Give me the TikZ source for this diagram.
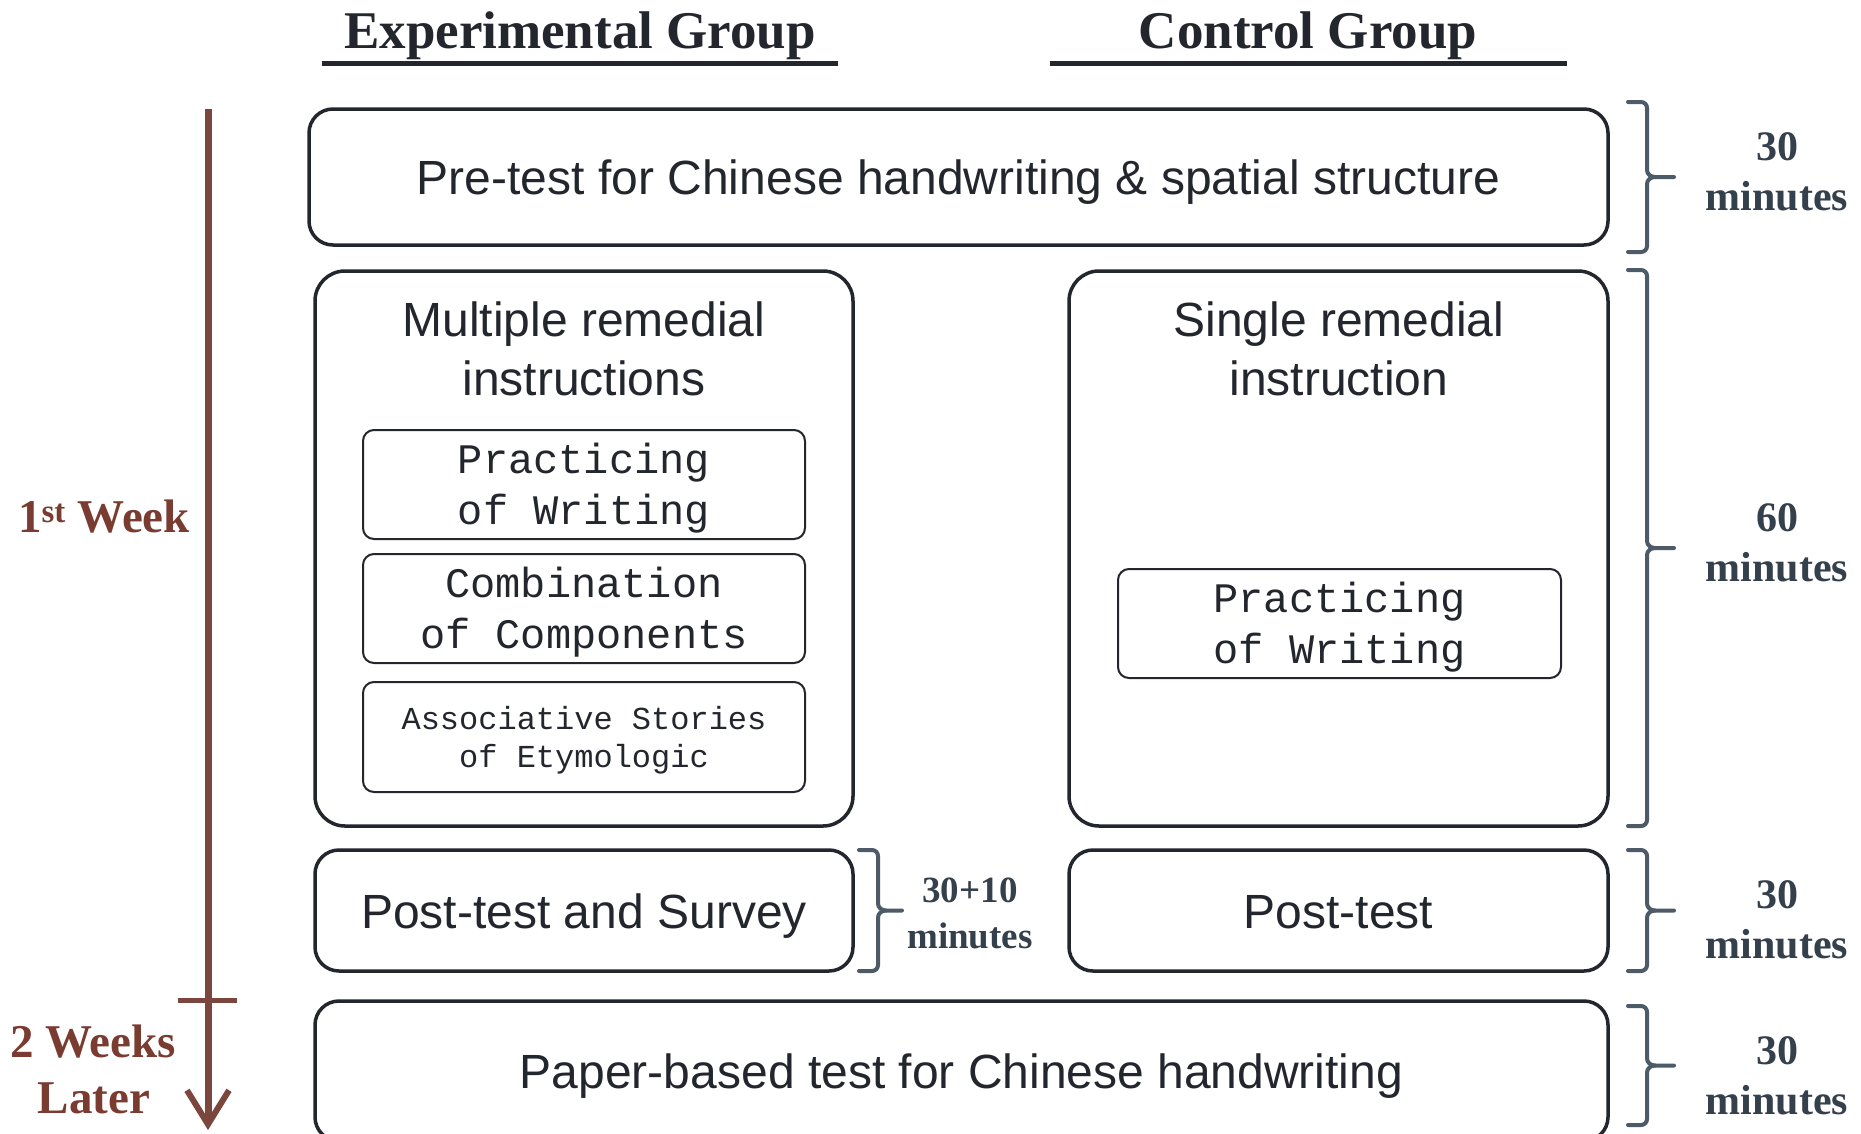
\documentclass[tikz,border=0pt]{standalone}
\usepackage{fontspec}
\setmainfont{Liberation Serif}
\newfontfamily\arialf{Liberation Sans}
\newfontfamily\courf{Liberation Mono}
\usetikzlibrary{arrows.meta}
\definecolor{boxc}{HTML}{24262E}
\definecolor{bracec}{HTML}{4D5A68}
\definecolor{labc}{HTML}{35404D}
\definecolor{brownt}{HTML}{7A3B31}
\definecolor{browna}{HTML}{7B463D}
\newcommand{\rbrc}[5]{%
  \draw[bracestyle] (#3,{(#4+#5)/2}) -- ({#2+8},{(#4+#5)/2}) to[out=180,in=-90] (#2,{(#4+#5)/2-7})
    -- (#2,{#4+6}) to[out=90,in=0] ({#2-6},#4) -- (#1,#4);
  \draw[bracestyle] ({#2+8},{(#4+#5)/2}) to[out=180,in=90] (#2,{(#4+#5)/2+7})
    -- (#2,{#5-6}) to[out=-90,in=0] ({#2-6},#5) -- (#1,#5);
}
\tikzset{
  outerbox/.style={draw=boxc, line width=3.5, rounded corners=24, inner sep=0, text=boxc,
    font=\arialf\fontsize{48}{59}\selectfont, align=center, text height=45pt, text depth=10pt},
  innerbox/.style={draw=boxc, line width=2, rounded corners=11, inner sep=0},
  innertext/.style={inner sep=0, text=boxc, font=\courf\fontsize{42}{51}\selectfont, align=center},
  titletext/.style={inner sep=0, text=boxc, font=\arialf\fontsize{48}{59}\selectfont, align=center},
  heading/.style={inner sep=0, text=boxc, font=\bfseries\fontsize{53}{60}\selectfont, anchor=base},
  timelab/.style={inner sep=0, text=labc, font=\bfseries\fontsize{42}{50}\selectfont, align=center},
  weeklab/.style={inner sep=0, text=brownt, font=\bfseries\fontsize{47}{56}\selectfont, align=center},
  bracestyle/.style={draw=bracec, line width=4, line cap=round},
}
\begin{document}
\begin{tikzpicture}[x=1pt,y=-1pt]
\useasboundingbox (0,0) rectangle (1861,1133);
\fill[white] (0,0) rectangle (1861,1133);

% headings
\node[heading] (hexp) at (580,48) {Experimental Group};
\node[heading] (hctl) at (1308,48) {Control Group};
\draw[boxc, line width=5] (322,63) -- (838,63);
\draw[boxc, line width=5] (1050,63) -- (1567,63);

% timeline arrow
\coordinate (atop) at (208,109);
\coordinate (abot) at (208,1130);
\draw[browna, line width=7, -{Straight Barb[length=34pt,width=42pt,line width=6pt]}] (atop) -- (abot);
\draw[browna, line width=5] (178,1000) -- (237,1000);
\node[weeklab, anchor=base] (w1) at (104,532) {1\textsuperscript{st} Week};
\node[weeklab, anchor=base] (w2a) at (93,1057) {2 Weeks};
\node[weeklab, anchor=base] (w2b) at (94,1113) {Later};

% boxes
\node[outerbox, minimum width=1299, minimum height=136] (pre) at (958.5,177)
  {Pre-test for Chinese handwriting \& spatial structure};
\node[outerbox, rounded corners=30, minimum width=538, minimum height=555] (multi) at (584,548.5) {};
\node[outerbox, rounded corners=30, minimum width=539, minimum height=555] (single) at (1338.5,548.5) {};
\node[titletext] (mtitle) at (584,349) {Multiple remedial\\instructions};
\node[titletext] (stitle) at (1339,349) {Single remedial\\instruction};

\node[innerbox, minimum width=442, minimum height=109] (pw1) at (584,484.5) {};
\node[innertext] (pw1t) at ([yshift=-3.5pt]pw1.center) {Practicing\\of Writing};
\node[innerbox, minimum width=442, minimum height=109] (cc) at (584,608.5) {};
\node[innertext] (cct) at ([yshift=-3.5pt]cc.center) {Combination\\of Components};
\node[innerbox, minimum width=442, minimum height=110] (as) at (584,737) {};
\node[innertext, font=\courf\fontsize{32}{38}\selectfont] (ast) at ([yshift=-3pt]as.center)
  {Associative Stories\\of Etymologic};
\node[innerbox, minimum width=443, minimum height=109] (pw2) at (1339.5,623.5) {};
\node[innertext] (pw2t) at ([yshift=-3.5pt]pw2.center) {Practicing\\of Writing};

\node[outerbox, minimum width=538, minimum height=121] (postS) at (584,910.5) {Post-test and Survey};
\node[outerbox, minimum width=539, minimum height=121] (post) at (1338.5,910.5) {Post-test};
\node[outerbox, minimum width=1293, minimum height=140] (paper) at (961.5,1071)
  {Paper-based test for Chinese handwriting};

% braces
\rbrc{1628}{1647}{1674}{102}{252}
\rbrc{1628}{1647}{1674}{270}{826}
\rbrc{1628}{1647}{1674}{850}{971}
\rbrc{1628}{1647}{1674}{1006}{1125}
\rbrc{859}{878}{902}{850}{971}

% time labels
\node[timelab] (t1) at (1777,172) {30\\minutes};
\node[timelab] (t2) at (1777,543) {60\\minutes};
\node[timelab] (t3) at (1777,920) {30\\minutes};
\node[timelab] (t4) at (1777,1076) {30\\minutes};
\node[timelab, font=\bfseries\fontsize{37}{46}\selectfont] (t5) at (970,913) {30+10\\minutes};
\end{tikzpicture}
\end{document}
